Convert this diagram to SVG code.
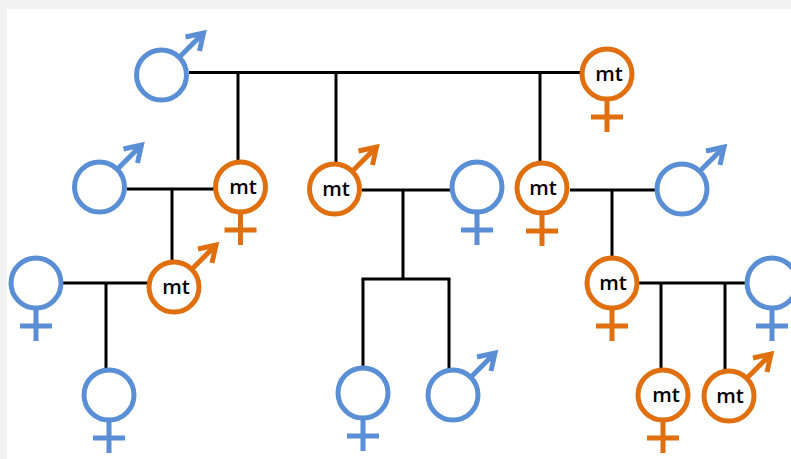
<svg xmlns="http://www.w3.org/2000/svg" xmlns:xlink="http://www.w3.org/1999/xlink" width="791" height="459" viewBox="0 0 791 459">
<style>
.bg{fill:#f2f2f2}
.card{fill:#ffffff}
.blue{stroke:#5b8fd5}
.orange{stroke:#e0700f}
.ring{fill:#ffffff;stroke-width:5}
.sym{fill:none;stroke-width:5;stroke-linecap:butt;stroke-linejoin:miter}
.conn line{stroke:#000000;stroke-width:3}
.lbl{font-family:"Open Sans","Liberation Sans",sans-serif;font-size:20.5px;font-weight:600;fill:#000000;text-anchor:middle}
</style>
<defs>
<path id="arrow" d="M19,-19 L42,-42 M24,-38 L42,-42 L38,-24"/>
<path id="cross" d="M0,27 L0,58 M-16,43 L16,43"/>
</defs>
<rect class="bg" x="0" y="0" width="791" height="459"/>
<rect class="card" x="7" y="9" width="784" height="450"/>
<g id="connectors" class="conn">
<line x1="189" y1="72.5" x2="581" y2="72.5"/>
<line x1="238" y1="72.5" x2="238" y2="161"/>
<line x1="336" y1="72.5" x2="336" y2="163"/>
<line x1="540" y1="72.5" x2="540" y2="162"/>
<line x1="127" y1="189" x2="214" y2="189"/>
<line x1="172" y1="189" x2="172" y2="261"/>
<line x1="362" y1="190" x2="451" y2="190"/>
<line x1="403" y1="190" x2="403" y2="279"/>
<line x1="361.5" y1="279" x2="450.5" y2="279"/>
<line x1="363" y1="279" x2="363" y2="367"/>
<line x1="449" y1="279" x2="449" y2="369"/>
<line x1="570" y1="190" x2="656" y2="190"/>
<line x1="612" y1="190" x2="612" y2="257"/>
<line x1="63" y1="283" x2="148" y2="283"/>
<line x1="106" y1="283" x2="106" y2="369"/>
<line x1="639" y1="283" x2="746" y2="283"/>
<line x1="661" y1="283" x2="661" y2="369"/>
<line x1="725" y1="283" x2="725" y2="370"/>
</g>
<g id="m1"><use xlink:href="#arrow" class="sym blue" x="161.5" y="75"/><circle class="ring blue" cx="161.5" cy="75" r="25"/></g>
<g id="f1"><use xlink:href="#cross" class="sym orange" x="607" y="74"/><circle class="ring orange" cx="607" cy="74" r="25"/><text class="lbl" x="609" y="81">mt</text></g>
<g id="m2"><use xlink:href="#arrow" class="sym blue" x="99.5" y="187"/><circle class="ring blue" cx="99.5" cy="187" r="25"/></g>
<g id="f2"><use xlink:href="#cross" class="sym orange" x="240.5" y="187"/><circle class="ring orange" cx="240.5" cy="187" r="25"/><text class="lbl" x="243" y="194">mt</text></g>
<g id="m3"><use xlink:href="#arrow" class="sym orange" x="334.5" y="189"/><circle class="ring orange" cx="334.5" cy="189" r="25"/><text class="lbl" x="336" y="196">mt</text></g>
<g id="f3"><use xlink:href="#cross" class="sym blue" x="477" y="187"/><circle class="ring blue" cx="477" cy="187" r="25"/></g>
<g id="f4"><use xlink:href="#cross" class="sym orange" x="542" y="188"/><circle class="ring orange" cx="542" cy="188" r="25"/><text class="lbl" x="543" y="195">mt</text></g>
<g id="m4"><use xlink:href="#arrow" class="sym blue" x="682" y="189"/><circle class="ring blue" cx="682" cy="189" r="25"/></g>
<g id="f5"><use xlink:href="#cross" class="sym blue" x="36" y="283"/><circle class="ring blue" cx="36" cy="283" r="25"/></g>
<g id="m5"><use xlink:href="#arrow" class="sym orange" x="174" y="287"/><circle class="ring orange" cx="174" cy="287" r="25"/><text class="lbl" x="176" y="294">mt</text></g>
<g id="f6"><use xlink:href="#cross" class="sym orange" x="612" y="283"/><circle class="ring orange" cx="612" cy="283" r="25"/><text class="lbl" x="613" y="290">mt</text></g>
<g id="f7"><use xlink:href="#cross" class="sym blue" x="772" y="283"/><circle class="ring blue" cx="772" cy="283" r="25"/></g>
<g id="f8"><use xlink:href="#cross" class="sym blue" x="109" y="395"/><circle class="ring blue" cx="109" cy="395" r="25"/></g>
<g id="f9"><use xlink:href="#cross" class="sym blue" x="363" y="393"/><circle class="ring blue" cx="363" cy="393" r="25"/></g>
<g id="m6"><use xlink:href="#arrow" class="sym blue" x="453" y="395"/><circle class="ring blue" cx="453" cy="395" r="25"/></g>
<g id="f10"><use xlink:href="#cross" class="sym orange" x="663" y="395"/><circle class="ring orange" cx="663" cy="395" r="25"/><text class="lbl" x="666" y="402">mt</text></g>
<g id="m7"><use xlink:href="#arrow" class="sym orange" x="729" y="396"/><circle class="ring orange" cx="729" cy="396" r="25"/><text class="lbl" x="730" y="403">mt</text></g>
</svg>
